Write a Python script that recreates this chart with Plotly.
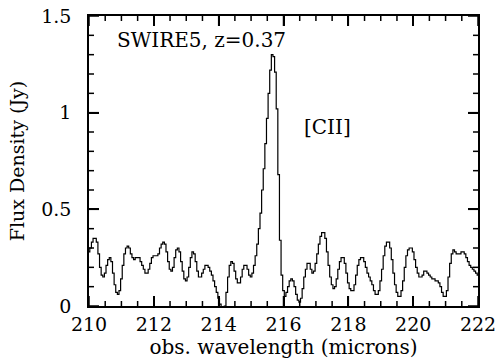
import plotly.graph_objects as go

# Spectral sampling grid (microns)
wl_start = 210.0
wl_step = 0.05

# Flux density (Jy), one value per 0.05 micron, 210.00 .. 222.00
flux = [
    # 210.00 - 210.95
    0.28, 0.30, 0.33, 0.35, 0.35, 0.33, 0.27, 0.20, 0.16, 0.15,
    0.17, 0.21, 0.24, 0.25, 0.23, 0.17, 0.11, 0.07, 0.06, 0.08,
    # 211.00 - 211.95
    0.14, 0.21, 0.27, 0.30, 0.31, 0.30, 0.27, 0.25, 0.24, 0.25,
    0.25, 0.25, 0.23, 0.21, 0.19, 0.17, 0.17, 0.19, 0.22, 0.25,
    # 212.00 - 212.95
    0.26, 0.26, 0.26, 0.27, 0.30, 0.32, 0.33, 0.32, 0.28, 0.23,
    0.19, 0.18, 0.20, 0.25, 0.29, 0.30, 0.28, 0.23, 0.18, 0.14,
    # 213.00 - 213.95
    0.13, 0.15, 0.20, 0.25, 0.28, 0.27, 0.23, 0.18, 0.15, 0.15,
    0.17, 0.19, 0.21, 0.21, 0.20, 0.18, 0.16, 0.13, 0.10, 0.07,
    # 214.00 - 214.95
    0.04, 0.01, -0.02, -0.02, 0.00, 0.07, 0.15, 0.21, 0.23, 0.22,
    0.18, 0.14, 0.12, 0.12, 0.15, 0.19, 0.21, 0.21, 0.19, 0.16,
    # 215.00 - 215.95
    0.15, 0.17, 0.21, 0.26, 0.32, 0.40, 0.48, 0.60, 0.71, 0.84,
    0.97, 1.10, 1.22, 1.30, 1.29, 1.21, 1.02, 0.68, 0.34, 0.16,
    # 216.00 - 216.95
    0.08, 0.05, 0.07, 0.10, 0.13, 0.14, 0.13, 0.10, 0.06, 0.03,
    0.02, 0.04, 0.09, 0.15, 0.19, 0.22, 0.22, 0.19, 0.17, 0.18,
    # 217.00 - 217.95
    0.22, 0.27, 0.32, 0.36, 0.38, 0.38, 0.35, 0.28, 0.21, 0.15,
    0.11, 0.09, 0.10, 0.14, 0.19, 0.23, 0.25, 0.25, 0.22, 0.17,
    # 218.00 - 218.95
    0.12, 0.09, 0.08, 0.08, 0.11, 0.16, 0.21, 0.24, 0.25, 0.25,
    0.23, 0.20, 0.17, 0.15, 0.13, 0.11, 0.08, 0.06, 0.06, 0.08,
    # 219.00 - 219.95
    0.13, 0.19, 0.26, 0.31, 0.33, 0.33, 0.30, 0.24, 0.17, 0.11,
    0.07, 0.05, 0.05, 0.08, 0.13, 0.20, 0.26, 0.29, 0.30, 0.30,
    # 220.00 - 220.95
    0.28, 0.24, 0.20, 0.17, 0.15, 0.15, 0.16, 0.18, 0.18, 0.17,
    0.16, 0.15, 0.14, 0.14, 0.13, 0.13, 0.12, 0.10, 0.07, 0.05,
    # 221.00 - 222.00
    0.05, 0.08, 0.15, 0.22, 0.27, 0.29, 0.28, 0.27, 0.27, 0.27,
    0.28, 0.28, 0.27, 0.25, 0.23, 0.21, 0.20, 0.19, 0.18, 0.17,
    0.16,
]
wavelength = [round(wl_start + i * wl_step, 3) for i in range(len(flux))]

x_ticks = [210, 212, 214, 216, 218, 220, 222]
y_ticks = [0, 0.5, 1, 1.5]
y_tick_text = ["0", "0.5", "1", "1.5"]
x_minor_step = 0.5
y_minor_step = 0.1
source_label = "SWIRE5, z=0.37"
line_label = "[CII]"

FONT = "DejaVu Serif"
X_RANGE = [210, 222]
Y_RANGE = [0, 1.5]
MAJOR_LEN, MINOR_LEN = 10, 5

fig = go.Figure()
fig.add_trace(go.Scatter(
    x=wavelength, y=flux, mode="lines",
    line=dict(color="black", width=1.2, shape="hvh"),
    showlegend=False, hoverinfo="skip",
))

# Tick marks on all four sides, pointing inwards
x_minor = [round(X_RANGE[0] + i * x_minor_step, 3)
           for i in range(int(round((X_RANGE[1] - X_RANGE[0]) / x_minor_step)) + 1)]
y_minor = [round(Y_RANGE[0] + i * y_minor_step, 3)
           for i in range(int(round((Y_RANGE[1] - Y_RANGE[0]) / y_minor_step)) + 1)]

tick_shapes = []
tick_line = dict(color="black", width=1.5)
for v in x_minor:
    ln = MAJOR_LEN if any(abs(v - t) < 1e-6 for t in x_ticks) else MINOR_LEN
    for anchor, sign in ((0, 1), (1, -1)):
        tick_shapes.append(dict(type="line", xref="x", x0=v, x1=v,
                                yref="paper", ysizemode="pixel", yanchor=anchor,
                                y0=0, y1=sign * ln, line=tick_line, layer="above"))
for v in y_minor:
    ln = MAJOR_LEN if any(abs(v - t) < 1e-6 for t in y_ticks) else MINOR_LEN
    for anchor, sign in ((0, 1), (1, -1)):
        tick_shapes.append(dict(type="line", yref="y", y0=v, y1=v,
                                xref="paper", xsizemode="pixel", xanchor=anchor,
                                x0=0, x1=sign * ln, line=tick_line, layer="above"))

axis_common = dict(ticks="inside", ticklen=MAJOR_LEN, tickwidth=1.5, tickcolor="black",
                   showline=True, linecolor="black", linewidth=1.5,
                   mirror="ticks", showgrid=False, zeroline=False, automargin=False,
                   tickfont=dict(family=FONT, size=19, color="black"))

fig.update_layout(
    width=504, height=360,
    margin=dict(l=89, r=26, t=16, b=54),
    paper_bgcolor="white", plot_bgcolor="white",
    xaxis=dict(
        range=X_RANGE, tickmode="array", tickvals=x_ticks,
        ticktext=[str(v) for v in x_ticks],
        title=dict(text="obs. wavelength (microns)", font=dict(family=FONT, size=20, color="black"), standoff=2),
        **axis_common,
    ),
    yaxis=dict(
        range=Y_RANGE, tickmode="array", tickvals=y_ticks,
        ticktext=y_tick_text,
        title=dict(text="Flux Density (Jy)", font=dict(family=FONT, size=19, color="black"), standoff=12),
        ticklabelstandoff=12,
        **axis_common,
    ),
    shapes=tick_shapes,
    annotations=[
        dict(text=source_label, xref="paper", yref="paper", x=0.067, y=0.917,
             xanchor="left", yanchor="middle", showarrow=False,
             font=dict(family=FONT, size=20, color="black")),
        dict(text=line_label, xref="paper", yref="paper", x=0.614, y=0.617,
             xanchor="center", yanchor="middle", showarrow=False,
             font=dict(family=FONT, size=20, color="black")),
    ],
)

fig.write_html("out.html", config={"displayModeBar": False},
               post_script="document.body.style.margin='0px';")
